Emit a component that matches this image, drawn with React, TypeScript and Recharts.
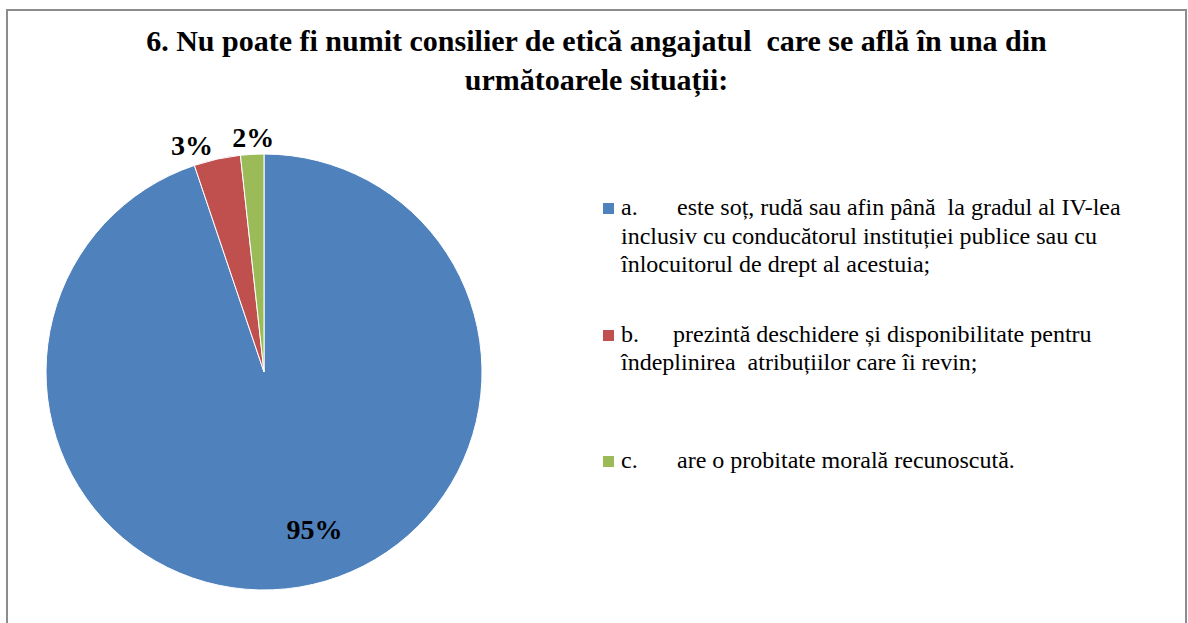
import { PieChart, Pie, Cell, Legend } from "recharts";

const categories = ["a.", "b.", "c."];
const counts = [55, 2, 1];
const legendLines = [
  [
    "este soț, rudă sau afin până  la gradul al IV-lea",
    "inclusiv cu conducătorul instituției publice sau cu",
    "înlocuitorul de drept al acestuia;",
  ],
  ["prezintă deschidere și disponibilitate pentru", "îndeplinirea  atribuțiilor care îi revin;"],
  ["are o probitate morală recunoscută."],
];
const titleLines = [
  "6. Nu poate fi numit consilier de etică angajatul  care se află în una din",
  "următoarele situații:",
];

const COLORS = ["#4F81BD", "#C0504D", "#9BBB59"];
const RADIAN = Math.PI / 180;
const SERIF = "Liberation Serif";

const data = categories.map((c, i) => ({ name: c, value: counts[i], lines: legendLines[i] }));

// label placement: inside for the big slice, outside for the thin ones
const labelPos = [
  { r: 0.72, dx: 25, dy: 2 },
  { r: 1.09, dx: -21, dy: 5 },
  { r: 1.085, dx: 2, dy: 1 },
];

function renderLabel(props: any) {
  const { cx, cy, midAngle, outerRadius, percent, index } = props;
  const p = labelPos[index];
  const rad = outerRadius * p.r;
  const x = cx + rad * Math.cos(-midAngle * RADIAN) + p.dx;
  const y = cy + rad * Math.sin(-midAngle * RADIAN) + p.dy;
  return (
    <text
      x={x}
      y={y}
      dy={10}
      textAnchor="middle"
      fill="#000"
      fontFamily={SERIF}
      fontWeight={700}
      fontSize={28}
    >
      {`${Math.round(percent * 100)}%`}
    </text>
  );
}

function LegendContent() {
  return (
    <div style={{ fontFamily: SERIF, fontSize: 24, lineHeight: "28.5px", color: "#000" }}>
      {data.map((d, i) => (
        <div key={d.name} style={{ position: "relative", height: 126.5, paddingLeft: 18 }}>
          <span
            style={{
              position: "absolute",
              left: 0,
              top: 10,
              width: 11,
              height: 11,
              background: COLORS[i],
            }}
          />
          {d.lines.map((line, j) => (
            <div key={j} style={{ whiteSpace: "pre" }}>
              {j === 0 && (
                <span style={{ display: "inline-block", width: i === 1 ? 52 : 56 }}>{d.name}</span>
              )}
              {line}
            </div>
          ))}
        </div>
      ))}
    </div>
  );
}

export default function App() {
  return (
    <div
      style={{
        position: "absolute",
        left: 0,
        top: 0,
        width: 1188,
        height: 623,
        overflow: "hidden",
        background: "#fff",
      }}
    >
      <div
        style={{
          position: "absolute",
          left: 6,
          top: 9,
          width: 1181,
          height: 700,
          border: "2px solid #8c8c8c",
          boxSizing: "border-box",
        }}
      />
      <div
        style={{
          position: "absolute",
          left: 6,
          top: 21,
          width: 1181,
          textAlign: "center",
          fontFamily: SERIF,
          fontWeight: 700,
          fontSize: 30,
          lineHeight: "39px",
          whiteSpace: "pre",
        }}
      >
        {titleLines.map((t, i) => (
          <div key={i}>{t}</div>
        ))}
      </div>
      <div style={{ position: "absolute", left: 0, top: 0 }}>
        <PieChart width={1188} height={623} margin={{ top: 0, right: 0, bottom: 0, left: 0 }}>
          <Pie
            data={data}
            dataKey="value"
            nameKey="name"
            cx={264}
            cy={372}
            outerRadius={218}
            startAngle={90}
            endAngle={-270}
            stroke="#fff"
            strokeWidth={1}
            label={renderLabel}
            labelLine={false}
            isAnimationActive={false}
          >
            {data.map((d, i) => (
              <Cell key={d.name} fill={COLORS[i]} />
            ))}
          </Pie>
          <Legend
            layout="vertical"
            content={<LegendContent />}
            wrapperStyle={{ position: "absolute", left: 603, top: 193, width: 560 }}
          />
        </PieChart>
      </div>
    </div>
  );
}
